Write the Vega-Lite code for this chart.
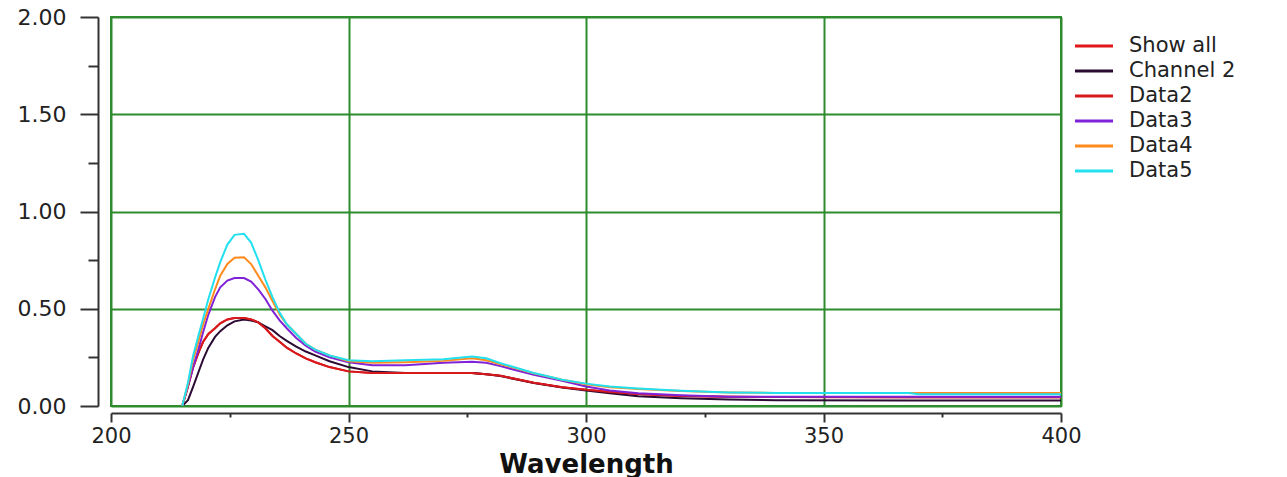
{
  "$schema": "https://vega.github.io/schema/vega-lite/v6.json",
  "width": 950,
  "height": 389,
  "autosize": "none",
  "padding": {"left": 111, "top": 17, "right": 226, "bottom": 71},
  "background": "white",
  "config": {"view": {"stroke": "#2e8b2e", "strokeWidth": 2}},
  "data": {"values": [
    {"w": 215, "Show all": 0, "Channel 2": 0, "Data2": 0, "Data3": 0, "Data4": 0, "Data5": 0},
    {"w": 216.2, "Show all": 0.1, "Channel 2": 0.03, "Data2": 0.1, "Data3": 0.1, "Data4": 0.11, "Data5": 0.12},
    {"w": 217.3, "Show all": 0.2, "Channel 2": 0.1, "Data2": 0.2, "Data3": 0.2, "Data4": 0.24, "Data5": 0.26},
    {"w": 218.5, "Show all": 0.28, "Channel 2": 0.18, "Data2": 0.28, "Data3": 0.3, "Data4": 0.34, "Data5": 0.37},
    {"w": 219.4, "Show all": 0.33, "Channel 2": 0.24, "Data2": 0.33, "Data3": 0.38, "Data4": 0.42, "Data5": 0.45},
    {"w": 220.5, "Show all": 0.37, "Channel 2": 0.3, "Data2": 0.37, "Data3": 0.47, "Data4": 0.5, "Data5": 0.55},
    {"w": 221.9, "Show all": 0.4, "Channel 2": 0.355, "Data2": 0.4, "Data3": 0.56, "Data4": 0.6, "Data5": 0.66},
    {"w": 223, "Show all": 0.425, "Channel 2": 0.385, "Data2": 0.425, "Data3": 0.61, "Data4": 0.67, "Data5": 0.74},
    {"w": 224.5, "Show all": 0.445, "Channel 2": 0.415, "Data2": 0.445, "Data3": 0.645, "Data4": 0.73, "Data5": 0.83},
    {"w": 226, "Show all": 0.452, "Channel 2": 0.435, "Data2": 0.452, "Data3": 0.658, "Data4": 0.762, "Data5": 0.88},
    {"w": 228, "Show all": 0.452, "Channel 2": 0.445, "Data2": 0.452, "Data3": 0.658, "Data4": 0.765, "Data5": 0.885},
    {"w": 229.5, "Show all": 0.445, "Channel 2": 0.44, "Data2": 0.445, "Data3": 0.64, "Data4": 0.73, "Data5": 0.84},
    {"w": 231, "Show all": 0.43, "Channel 2": 0.43, "Data2": 0.43, "Data3": 0.6, "Data4": 0.67, "Data5": 0.75},
    {"w": 232.5, "Show all": 0.4, "Channel 2": 0.41, "Data2": 0.4, "Data3": 0.55, "Data4": 0.61, "Data5": 0.65},
    {"w": 234, "Show all": 0.36, "Channel 2": 0.39, "Data2": 0.36, "Data3": 0.49, "Data4": 0.54, "Data5": 0.56},
    {"w": 235.5, "Show all": 0.33, "Channel 2": 0.36, "Data2": 0.33, "Data3": 0.44, "Data4": 0.47, "Data5": 0.48},
    {"w": 237, "Show all": 0.3, "Channel 2": 0.335, "Data2": 0.3, "Data3": 0.4, "Data4": 0.42, "Data5": 0.42},
    {"w": 239, "Show all": 0.27, "Channel 2": 0.305, "Data2": 0.27, "Data3": 0.35, "Data4": 0.37, "Data5": 0.37},
    {"w": 241, "Show all": 0.245, "Channel 2": 0.28, "Data2": 0.245, "Data3": 0.31, "Data4": 0.32, "Data5": 0.32},
    {"w": 243, "Show all": 0.225, "Channel 2": 0.26, "Data2": 0.225, "Data3": 0.28, "Data4": 0.29, "Data5": 0.29},
    {"w": 246, "Show all": 0.2, "Channel 2": 0.23, "Data2": 0.2, "Data3": 0.25, "Data4": 0.26, "Data5": 0.26},
    {"w": 250, "Show all": 0.178, "Channel 2": 0.2, "Data2": 0.178, "Data3": 0.225, "Data4": 0.23, "Data5": 0.235},
    {"w": 255, "Show all": 0.17, "Channel 2": 0.178, "Data2": 0.17, "Data3": 0.21, "Data4": 0.222, "Data5": 0.23},
    {"w": 262, "Show all": 0.17, "Channel 2": 0.17, "Data2": 0.17, "Data3": 0.21, "Data4": 0.225, "Data5": 0.235},
    {"w": 270, "Show all": 0.17, "Channel 2": 0.17, "Data2": 0.17, "Data3": 0.222, "Data4": 0.232, "Data5": 0.24},
    {"w": 276, "Show all": 0.17, "Channel 2": 0.17, "Data2": 0.17, "Data3": 0.228, "Data4": 0.245, "Data5": 0.255},
    {"w": 279, "Show all": 0.163, "Channel 2": 0.163, "Data2": 0.163, "Data3": 0.222, "Data4": 0.235, "Data5": 0.245},
    {"w": 282, "Show all": 0.155, "Channel 2": 0.154, "Data2": 0.155, "Data3": 0.205, "Data4": 0.215, "Data5": 0.22},
    {"w": 289, "Show all": 0.12, "Channel 2": 0.118, "Data2": 0.12, "Data3": 0.16, "Data4": 0.168, "Data5": 0.17},
    {"w": 295, "Show all": 0.097, "Channel 2": 0.095, "Data2": 0.097, "Data3": 0.13, "Data4": 0.135, "Data5": 0.135},
    {"w": 300, "Show all": 0.083, "Channel 2": 0.08, "Data2": 0.083, "Data3": 0.1, "Data4": 0.112, "Data5": 0.115},
    {"w": 305, "Show all": 0.072, "Channel 2": 0.065, "Data2": 0.072, "Data3": 0.08, "Data4": 0.097, "Data5": 0.1},
    {"w": 311, "Show all": 0.062, "Channel 2": 0.05, "Data2": 0.062, "Data3": 0.066, "Data4": 0.087, "Data5": 0.09},
    {"w": 320, "Show all": 0.052, "Channel 2": 0.04, "Data2": 0.052, "Data3": 0.055, "Data4": 0.077, "Data5": 0.078},
    {"w": 330, "Show all": 0.047, "Channel 2": 0.033, "Data2": 0.047, "Data3": 0.048, "Data4": 0.07, "Data5": 0.07},
    {"w": 340, "Show all": 0.046, "Channel 2": 0.03, "Data2": 0.046, "Data3": 0.047, "Data4": 0.067, "Data5": 0.067},
    {"w": 368, "Show all": 0.045, "Channel 2": 0.028, "Data2": 0.045, "Data3": 0.047, "Data4": 0.067, "Data5": 0.067},
    {"w": 370, "Show all": 0.045, "Channel 2": 0.028, "Data2": 0.045, "Data3": 0.047, "Data4": 0.067, "Data5": 0.06},
    {"w": 400, "Show all": 0.045, "Channel 2": 0.028, "Data2": 0.045, "Data3": 0.047, "Data4": 0.067, "Data5": 0.06}
  ]},
  "transform": [
    {"fold": ["Show all", "Channel 2", "Data2", "Data3", "Data4", "Data5"], "as": ["series", "abs"]}
  ],
  "mark": {"type": "line", "strokeWidth": 2, "clip": true},
  "encoding": {
    "x": {
      "field": "w", "type": "quantitative",
      "scale": {"domain": [200, 400], "nice": false, "zero": false},
      "axis": {
        "values": [200, 225, 250, 275, 300, 325, 350, 375, 400],
        "format": "d",
        "labelExpr": "datum.value % 50 == 0 ? datum.label : ''",
        "offset": 7,
        "tickSize": {"condition": {"test": "datum.value % 50 == 0", "value": 9}, "value": 4},
        "tickColor": "#333", "tickWidth": 2,
        "domainColor": "#333", "domainWidth": 2,
        "grid": true, "gridColor": "#2e8b2e", "gridWidth": 2,
        "gridOpacity": {"condition": {"test": "datum.value % 50 == 0", "value": 1}, "value": 0},
        "labelFont": "DejaVu Sans", "labelFontSize": 21, "labelColor": "#222", "labelPadding": 3,
        "labelFlush": false, "labelOverlap": false,
        "title": "Wavelength", "titleFont": "DejaVu Sans", "titleFontWeight": "bold",
        "titleFontSize": 26, "titleColor": "#111", "titlePadding": 5
      }
    },
    "y": {
      "field": "abs", "type": "quantitative",
      "scale": {"domain": [0, 2], "nice": false},
      "axis": {
        "values": [0, 0.25, 0.5, 0.75, 1, 1.25, 1.5, 1.75, 2],
        "format": ".2f",
        "labelExpr": "round(datum.value * 4) % 2 == 0 ? datum.label : ''",
        "offset": 13,
        "tickSize": {"condition": {"test": "round(datum.value * 4) % 2 == 0", "value": 18}, "value": 10},
        "tickColor": "#333", "tickWidth": 2,
        "domainColor": "#333", "domainWidth": 2,
        "grid": true, "gridColor": "#2e8b2e", "gridWidth": 2,
        "gridOpacity": {"condition": {"test": "round(datum.value * 4) % 2 == 0", "value": 1}, "value": 0},
        "labelFont": "DejaVu Sans", "labelFontSize": 22, "labelColor": "#222", "labelPadding": 14,
        "labelFlush": false, "labelOverlap": false,
        "title": null
      }
    },
    "color": {
      "field": "series", "type": "nominal",
      "scale": {
        "domain": ["Show all", "Channel 2", "Data2", "Data3", "Data4", "Data5"],
        "range": ["#e0161b", "#2b0a33", "#d7191c", "#7f22d8", "#ff8a1e", "#22e0ee"]
      },
      "legend": {
        "title": null, "orient": "none", "legendX": 972, "legendY": 18,
        "symbolType": "M-2,0H2", "symbolSize": 361, "symbolStrokeWidth": 3,
        "labelFont": "DejaVu Sans", "labelFontSize": 21, "labelColor": "#222",
        "labelOffset": 24, "rowPadding": 4, "padding": 0
      }
    }
  }
}
